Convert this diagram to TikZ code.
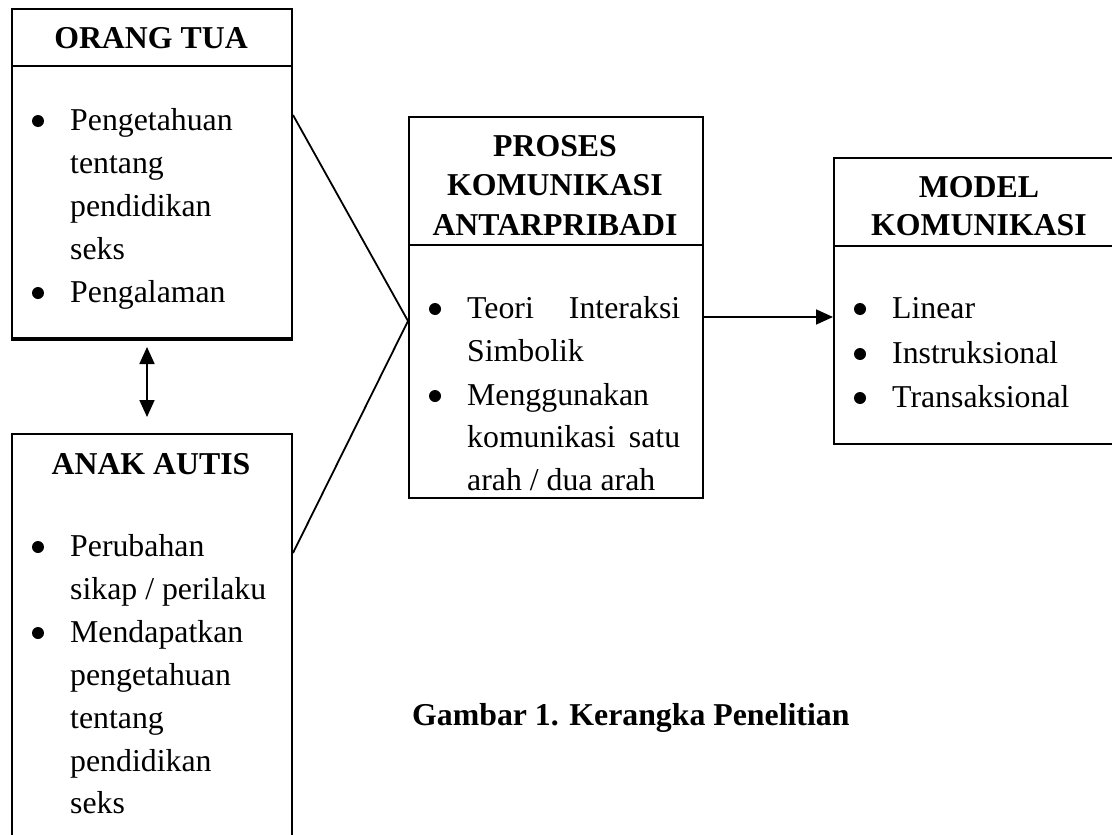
\documentclass[tikz,border=0pt]{standalone}
\usepackage{fontspec}
\setmainfont{Liberation Serif}
\usetikzlibrary{arrows.meta,calc}
\begin{document}
\begin{tikzpicture}[x=1pt,y=-1pt,
  box/.style={draw,line width=2pt,rectangle,inner sep=0,anchor=north west},
  txt/.style={anchor=base west,inner sep=0,font=\fontsize{31.8}{43}\selectfont},
  ttl/.style={anchor=base,inner sep=0,font=\fontsize{31.8}{43}\selectfont\bfseries},
  bul/.style={fill,circle,inner sep=0,minimum size=12pt},
  conn/.style={line width=1.8pt},
  arr/.style={line width=1.8pt,-{Triangle[length=17pt,width=15pt]}},
  dblarr/.style={line width=1.8pt,{Triangle[length=17pt,width=15pt]}-{Triangle[length=17pt,width=15pt]}}]
\useasboundingbox (0,0) rectangle (1112,835);
\clip (0,0) rectangle (1112,835);
\fill[white] (0,0) rectangle (1112,835);

% boxes
\node[box,minimum width=280pt,minimum height=329pt] (ot) at (11,8) {};
\node[box,minimum width=280pt,minimum height=450pt] (aa) at (11,433) {};
\node[box,minimum width=294pt,minimum height=381pt] (pr) at (408,116) {};
\node[box,minimum width=292pt,minimum height=286pt] (md) at (833,157) {};

% header separators
\draw[line width=2pt] (ot.west |- 0,66) -- (ot.east |- 0,66);
\draw[line width=2pt] (pr.west |- 0,245) -- (pr.east |- 0,245);
\draw[line width=2pt] (md.west |- 0,246) -- (md.east |- 0,246);
\draw[line width=3pt] (ot.south west) -- (ot.south east);

% ORANG TUA
\node[ttl] (otT) at (151,48) {ORANG TUA};
\node[bul] (otb1) at (38,121) {};
\node[txt] (ot1) at (70,130) {Pengetahuan};
\node[txt] (ot2) at (70,173) {tentang};
\node[txt] (ot3) at (70,216) {pendidikan};
\node[txt] (ot4) at (70,259) {seks};
\node[bul] (otb2) at (38,293) {};
\node[txt] (ot5) at (70,302) {Pengalaman};

% ANAK AUTIS
\node[ttl] (aaT) at (151,474) {ANAK AUTIS};
\node[bul] (aab1) at (38,547) {};
\node[txt] (aa1) at (70,556) {Perubahan};
\node[txt] (aa2) at (70,599) {sikap / perilaku};
\node[bul] (aab2) at (38,633) {};
\node[txt] (aa3) at (70,642) {Mendapatkan};
\node[txt] (aa4) at (70,685) {pengetahuan};
\node[txt] (aa5) at (70,728) {tentang};
\node[txt] (aa6) at (70,771) {pendidikan};
\node[txt] (aa7) at (70,813) {seks};

% PROSES
\node[ttl] (prT1) at (555,156) {PROSES};
\node[ttl] (prT2) at (555,195) {KOMUNIKASI};
\node[ttl] (prT3) at (555,235) {ANTARPRIBADI};
\node[bul] (prb1) at (435,309) {};
\node[txt] (pr1) at (467,318) {\makebox[213pt][s]{Teori\hfill Interaksi}};
\node[txt] (pr2) at (467,361) {Simbolik};
\node[bul] (prb2) at (435,396) {};
\node[txt] (pr3) at (467,405) {Menggunakan};
\node[txt] (pr4) at (467,447) {\makebox[213pt][s]{komunikasi\hfill satu}};
\node[txt] (pr5) at (467,490) {arah / dua arah};

% MODEL
\node[ttl] (mdT1) at (979,197) {MODEL};
\node[ttl] (mdT2) at (979,235) {KOMUNIKASI};
\node[bul] (mdb1) at (860,309) {};
\node[txt] (md1) at (892,318) {Linear};
\node[bul] (mdb2) at (860,354) {};
\node[txt] (md2) at (892,363) {Instruksional};
\node[bul] (mdb3) at (860,398) {};
\node[txt] (md3) at (892,407) {Transaksional};

% caption
\node[txt,font=\fontsize{31.8}{43}\selectfont\bfseries] (cap) at (412,725) {Gambar 1. Kerangka Penelitian};

% connectors
\coordinate (otR) at (ot.east |- 0,115);
\coordinate (aaR) at (aa.east |- 0,553);
\coordinate (prL) at (pr.west |- 0,321);
\draw[conn] (otR) -- (prL) -- (aaR);
\draw[arr] (pr.east |- 0,317) -- (md.west |- 0,317);
\draw[dblarr] ($(ot.south)+(-5,8)$) -- ($(aa.north)+(-5,-16)$);
\end{tikzpicture}
\end{document}
